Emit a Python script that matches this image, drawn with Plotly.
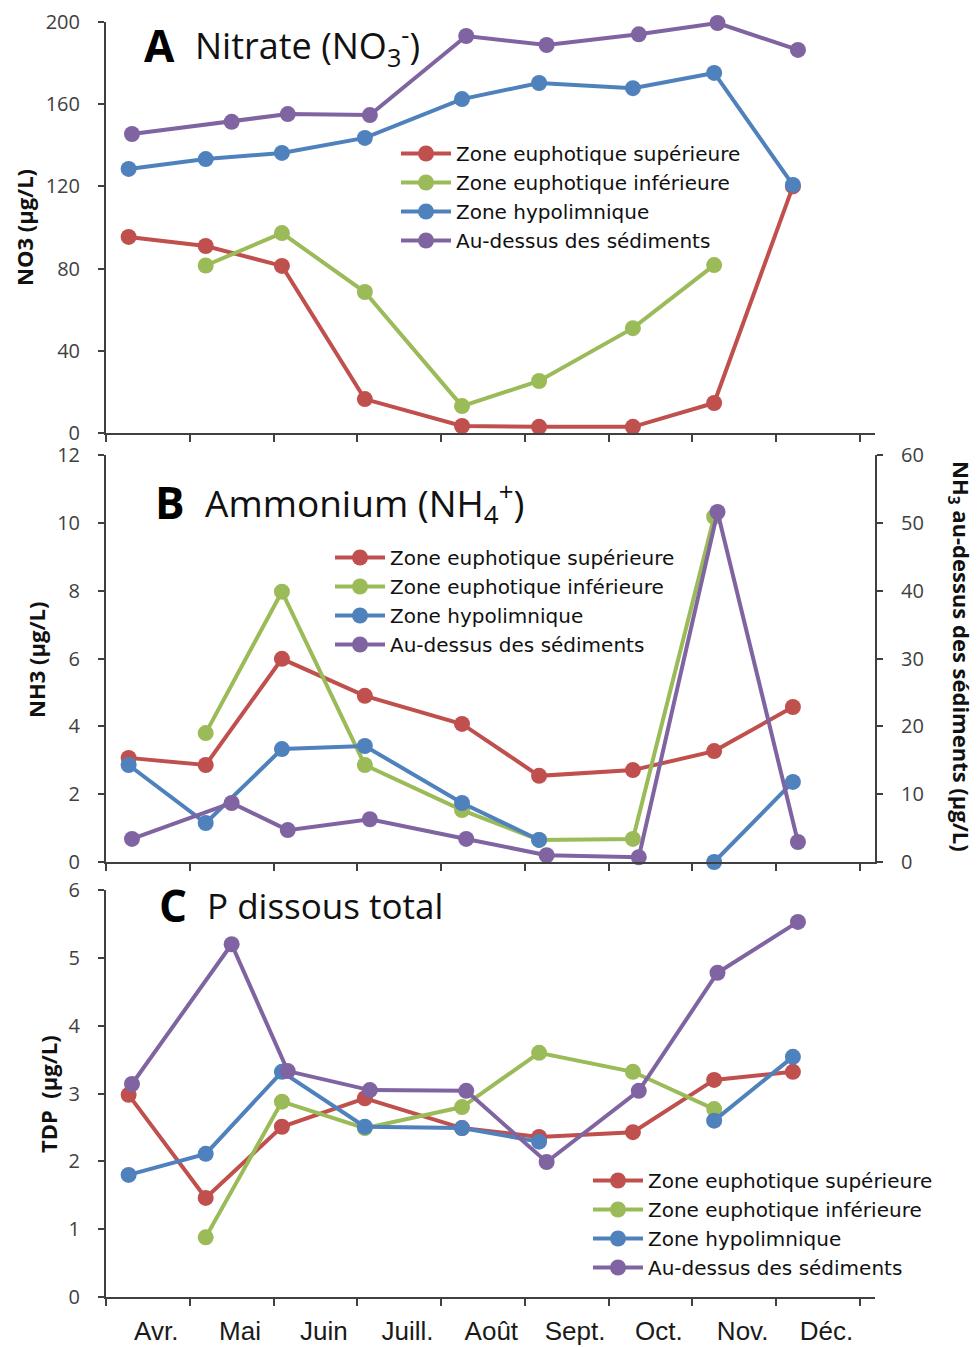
import plotly.graph_objects as go

# Sampling dates, in months from 1 April (0 = 1 Apr, 1 = 1 May, ...)
zone_dates = [0.27, 1.19, 2.10, 3.09, 4.25, 5.17, 6.29, 7.26, 8.20]
sed_dates = [0.31, 1.50, 2.17, 3.15, 4.30, 5.26, 6.36, 7.30, 8.26]

months = ["Avr.", "Mai", "Juin", "Juill.", "Août", "Sept.", "Oct.", "Nov.", "Déc."]

series_names = [
    "Zone euphotique supérieure",
    "Zone euphotique inférieure",
    "Zone hypolimnique",
    "Au-dessus des sédiments",
]

# A - Nitrate (µg/L)
no3_sup = [95.4, 91.0, 81.3, 16.5, 3.4, 3.0, 3.0, 14.6, 120.0]
no3_inf = [None, 81.5, 97.3, 68.6, 13.1, 25.3, 51.0, 81.7, None]
no3_hypo = [128.5, 133.3, 136.3, 143.6, 162.5, 170.3, 167.8, 175.2, 120.7]
no3_sed = [145.5, 151.4, 155.2, 154.7, 193.2, 188.8, 194.0, 199.5, 186.4]

# B - Ammonium (µg/L); the sediment series is read on the right-hand axis
nh_sup = [3.07, 2.86, 5.99, 4.90, 4.07, 2.54, 2.71, 3.27, 4.57]
nh_inf = [None, 3.80, 7.97, 2.86, 1.53, 0.65, 0.68, 10.18, None]
nh_hypo = [2.86, 1.15, 3.33, 3.42, 1.74, 0.65, None, 0.0, 2.36]
nh_sed = [3.4, 8.7, 4.7, 6.3, 3.4, 1.0, 0.7, 51.6, 2.95]

# C - Total dissolved phosphorus (µg/L)
tdp_sup = [2.98, 1.46, 2.51, 2.93, 2.49, 2.36, 2.43, 3.20, 3.32]
tdp_inf = [None, 0.88, 2.88, 2.49, 2.80, 3.60, 3.32, 2.77, None]
tdp_hypo = [1.80, 2.11, 3.32, 2.51, 2.49, 2.29, None, 2.60, 3.54]
tdp_sed = [3.14, 5.20, 3.33, 3.05, 3.04, 1.99, 3.04, 4.78, 5.53]

colors = ["#C0504D", "#9BBB59", "#4F81BD", "#8064A2"]

W, H = 979, 1348
ML, MR, MT, MB = 106, 104, 22, 51
PW, PH = W - ML - MR, H - MT - MB


def fx(px):
    return (px - ML) / PW


def fy(py):
    return (H - MB - py) / PH


AXIS_COLOR = "#404040"
TICK_FONT = dict(family="Open Sans", size=20, color="#404040")

fig = go.Figure()

panels = [
    ("x", "legend", [no3_sup, no3_inf, no3_hypo, no3_sed], ["y", "y", "y", "y"]),
    ("x2", "legend2", [nh_sup, nh_inf, nh_hypo, nh_sed], ["y2", "y2", "y2", "y4"]),
    ("x3", "legend3", [tdp_sup, tdp_inf, tdp_hypo, tdp_sed], ["y3", "y3", "y3", "y3"]),
]

for xa, leg, values, yaxes in panels:
    for i, (name, vals) in enumerate(zip(series_names, values)):
        dates = sed_dates if i == 3 else zone_dates
        fig.add_trace(go.Scatter(
            x=dates, y=vals, name=name, mode="lines+markers",
            xaxis=xa, yaxis=yaxes[i], legend=leg,
            line=dict(color=colors[i], width=4),
            marker=dict(color=colors[i], size=16),
            cliponaxis=False, connectgaps=False,
        ))

x_range = [0, 9.18]
common_x = dict(
    range=x_range, showline=True, linecolor=AXIS_COLOR, linewidth=2,
    showgrid=False, zeroline=False, fixedrange=True, automargin=False,
)
boundaries = list(range(10))
# month names sit inside each month, a little right of its middle
label_pos = [i + 0.6 for i in range(len(months))]

common_y = dict(
    showline=True, linecolor=AXIS_COLOR, linewidth=2, showgrid=False,
    zeroline=False, ticks="outside", ticklen=6, tickwidth=2,
    tickcolor=AXIS_COLOR, tickfont=TICK_FONT, ticklabelstandoff=14,
    automargin=False,
)

dom_a = [fy(433), fy(22)]
dom_b = [fy(862), fy(455)]
dom_c = [0, fy(890)]

legend_common = dict(
    font=dict(family="DejaVu Sans", size=20, color="#111111"),
    bgcolor="rgba(0,0,0,0)", xanchor="left", yanchor="top",
    itemwidth=50, tracegroupgap=0,
)

fig.update_layout(
    width=W, height=H,
    margin=dict(l=ML, r=MR, t=MT, b=MB, autoexpand=False),
    plot_bgcolor="white", paper_bgcolor="white",
    xaxis=dict(common_x, anchor="y", tickmode="array", tickvals=boundaries,
               ticks="outside", ticklen=7, tickwidth=2, tickcolor=AXIS_COLOR,
               showticklabels=False),
    xaxis2=dict(common_x, anchor="y2", tickmode="array", tickvals=boundaries,
                ticks="outside", ticklen=7, tickwidth=2, tickcolor=AXIS_COLOR,
                showticklabels=False),
    xaxis3=dict(common_x, anchor="y3", tickmode="array",
                tickvals=label_pos, ticktext=months,
                ticks="", ticklabelstandoff=10,
                tickfont=dict(family="Liberation Sans", size=26, color="#1a1a1a"),
                minor=dict(tickmode="array", tickvals=boundaries, ticks="outside",
                           ticklen=7, tickwidth=2, tickcolor=AXIS_COLOR)),
    yaxis=dict(common_y, domain=dom_a, anchor="x", range=[0, 200],
               tickvals=[0, 40, 80, 120, 160, 200]),
    yaxis2=dict(common_y, domain=dom_b, anchor="x2", range=[0, 12],
                tickvals=[0, 2, 4, 6, 8, 10, 12]),
    yaxis4=dict(common_y, overlaying="y2", anchor="x2", side="right",
                range=[0, 60], tickvals=[0, 10, 20, 30, 40, 50, 60]),
    yaxis3=dict(common_y, domain=dom_c, anchor="x3", range=[0, 6],
                tickvals=[0, 1, 2, 3, 4, 5, 6]),
    legend=dict(legend_common, x=fx(396), y=fy(134)),
    legend2=dict(legend_common, x=fx(330), y=fy(538)),
    legend3=dict(legend_common, x=fx(588), y=fy(1161)),
    showlegend=True,
)

# Panel letters and titles
letter_font = dict(family="Open Sans", size=44, color="#000000")
titles = [
    ("A", "Nitrate (NO<sub>3</sub><sup>-</sup>)", 142, 193, 45, 36),
    ("B", "Ammonium (NH<sub>4</sub><sup>+</sup>)", 153, 203, 502, 37),
    ("C", "P dissous total", 157, 205, 905, 35),
]
for letter, text, lx, tx, cy, size in titles:
    fig.add_annotation(text=f"<b>{letter}</b>", xref="paper", yref="paper",
                       x=fx(lx), y=fy(cy), xanchor="left", yanchor="middle",
                       showarrow=False, font=letter_font)
    fig.add_annotation(text=text, xref="paper", yref="paper",
                       x=fx(tx), y=fy(cy), xanchor="left", yanchor="middle",
                       showarrow=False,
                       font=dict(family="Open Sans", size=size, color="#111111"))

# Axis titles
axis_title_font = dict(family="Open Sans", size=22, color="#111111")
axis_titles = [
    ("<b>NO3 (µg/L)</b>", 24, 228, -90),
    ("<b>NH3 (µg/L)</b>", 36, 660, -90),
    ("<b>TDP  (µg/L)</b>", 48, 1094, -90),
    ("<b>NH<sub>3</sub> au-dessus des sédiments (µg/L)</b>", 960, 656, 90),
]
for text, cx, cy, ang in axis_titles:
    fig.add_annotation(text=text, xref="paper", yref="paper",
                       x=fx(cx), y=fy(cy), xanchor="center", yanchor="middle",
                       textangle=ang, showarrow=False, font=axis_title_font)

fig.write_html("out.html")
